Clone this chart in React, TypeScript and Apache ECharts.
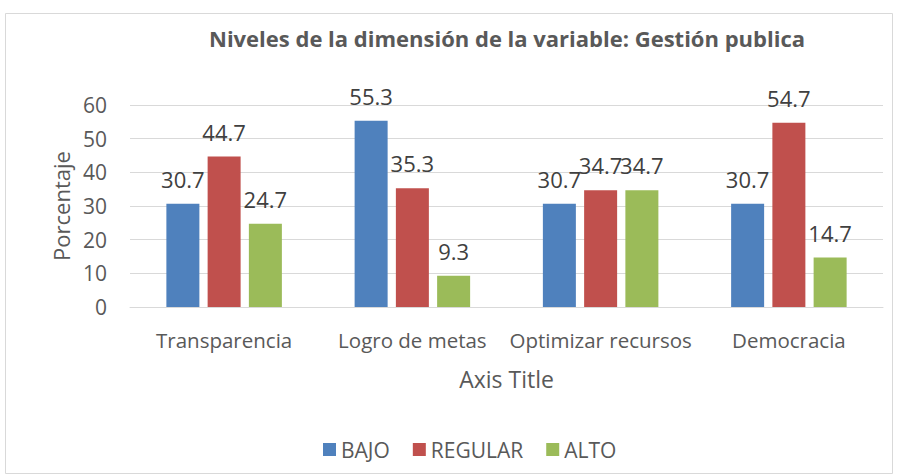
import React, { useEffect, useRef } from "react";
import * as echarts from "echarts";

const categories = ["Transparencia", "Logro de metas", "Optimizar recursos", "Democracia"];
const bajo = [30.7, 55.3, 30.7, 30.7];
const regular = [44.7, 35.3, 34.7, 54.7];
const alto = [24.7, 9.3, 34.7, 14.7];
const seriesNames = ["BAJO", "REGULAR", "ALTO"];
const colors = ["#4F81BD", "#C0504D", "#9BBB59"];
const FONT = "'Open Sans', sans-serif";

export default function App() {
  const ref = useRef<HTMLDivElement>(null);
  useEffect(() => {
    const chart = echarts.init(ref.current!, null, { renderer: "svg" });
    const data = [bajo, regular, alto];
    chart.setOption({
      animation: false,
      textStyle: { fontFamily: FONT },
      title: {
        text: "Niveles de la dimensión de la variable: Gestión publica",
        left: 502,
        top: 22,
        textAlign: "center",
        textStyle: { fontFamily: FONT, fontSize: 22, fontWeight: "bold", color: "#595959" },
      },
      graphic: [
        {
          type: "rect",
          shape: { x: 5.5, y: 13.5, width: 887, height: 460 },
          style: { fill: "none", stroke: "#D9D9D9", lineWidth: 1 },
          silent: true,
        },
      ],
      legend: {
        data: seriesNames,
        bottom: 10,
        left: 318,
        itemWidth: 13,
        itemHeight: 13,
        itemGap: 23,
        icon: "rect",
        textStyle: { fontFamily: FONT, fontSize: 21, color: "#595959" },
      },
      grid: { left: 130, right: 15, top: 105, height: 202, containLabel: false },
      xAxis: {
        type: "category",
        data: categories,
        name: "Axis Title",
        nameLocation: "middle",
        nameGap: 60,
        nameTextStyle: { fontFamily: FONT, fontSize: 23, color: "#595959" },
        axisLine: { show: true, lineStyle: { color: "#D9D9D9", width: 1 } },
        axisTick: { show: false },
        axisLabel: { fontFamily: FONT, fontSize: 20.5, color: "#595959", margin: 22, interval: 0 },
      },
      yAxis: {
        type: "value",
        min: 0,
        max: 60,
        interval: 10,
        name: "Porcentaje",
        nameLocation: "middle",
        nameGap: 56,
        nameTextStyle: { fontFamily: FONT, fontSize: 22, color: "#595959" },
        axisLine: { show: false },
        axisTick: { show: false },
        axisLabel: { fontFamily: FONT, fontSize: 21, color: "#595959", margin: 23 },
        splitLine: { lineStyle: { color: "#D9D9D9", width: 1 } },
      },
      series: seriesNames.map((n, i) => ({
        name: n,
        type: "bar",
        data: data[i],
        barWidth: 33,
        barGap: "25%",
        itemStyle: { color: colors[i] },
        label: {
          show: true,
          position: "top",
          distance: 14,
          fontFamily: FONT,
          fontSize: 22,
          color: "#404040",
        },
      })),
    });
    return () => chart.dispose();
  }, []);
  return <div ref={ref} style={{ width: 898, height: 475, position: "absolute", left: 0, top: 0 }} />;
}
